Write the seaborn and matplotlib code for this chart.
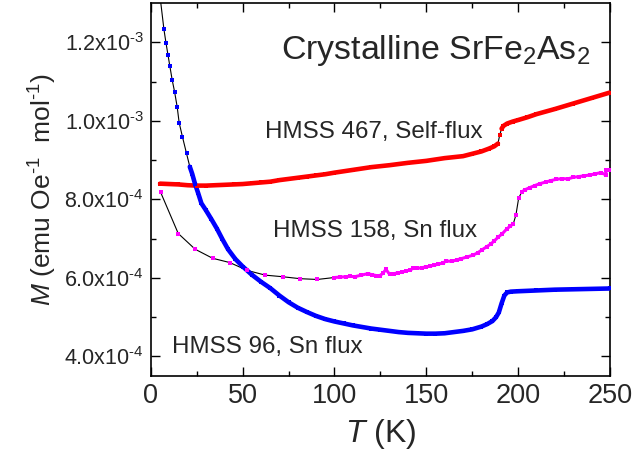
import numpy as np
import pandas as pd
import matplotlib
matplotlib.use("Agg")
import matplotlib.pyplot as plt
import seaborn as sns

# ---- HMSS 96, Sn flux (blue) ----
t_96 = [4.0, 5.3, 7.1, 8.2, 9.3, 10.3, 11.6, 12.9, 14.3, 15.4, 17.2, 19.4, 21.2,
        22.5, 24.0, 25.8, 27.5, 30, 33, 36, 39, 42, 46, 50, 55, 60, 65, 70, 75,
        80, 85, 90, 95, 100, 105, 110, 115, 120, 125, 130, 135, 140, 145, 150,
        155, 160, 165, 170, 175, 180, 183, 186, 188, 189.5, 191, 192.5, 194,
        196, 200, 205, 210, 220, 230, 240, 250]
m_96 = [13.6, 13.04, 12.33, 11.99, 11.68, 11.40, 11.04, 10.74, 10.36, 9.95, 9.59,
        9.17, 8.83, 8.65, 8.40, 8.15, 7.90, 7.72, 7.49, 7.25, 6.98, 6.73, 6.48,
        6.29, 6.08, 5.90, 5.74, 5.55, 5.38, 5.24, 5.13, 5.03, 4.95, 4.89, 4.84,
        4.79, 4.75, 4.71, 4.68, 4.65, 4.62, 4.60, 4.59, 4.58, 4.58, 4.59, 4.62,
        4.65, 4.69, 4.76, 4.82, 4.90, 5.00, 5.12, 5.35, 5.55, 5.63, 5.65, 5.66,
        5.67, 5.68, 5.70, 5.71, 5.72, 5.73]

# ---- HMSS 467, Self-flux (red) ----
t_467 = [5, 10, 15, 20, 25, 30, 35, 40, 45, 50, 55, 60, 65, 70, 75, 80, 85, 90,
         95, 100, 110, 120, 130, 140, 150, 160, 170, 175, 180, 184, 187, 189,
         190, 191, 192, 194, 197, 200, 205, 210, 220, 230, 240, 250]
m_467 = [8.40, 8.39, 8.38, 8.36, 8.35, 8.35, 8.36, 8.37, 8.38, 8.39, 8.41, 8.43,
         8.45, 8.49, 8.52, 8.55, 8.58, 8.61, 8.64, 8.68, 8.75, 8.82, 8.87, 8.93,
         8.98, 9.05, 9.10, 9.16, 9.22, 9.29, 9.35, 9.42, 9.64, 9.80, 9.87, 9.93,
         9.98, 10.02, 10.09, 10.17, 10.30, 10.44, 10.58, 10.72]

# ---- HMSS 158, Sn flux (magenta) ----
t_158 = [5.3, 14.9, 24.1, 33.6, 43, 52.5, 62.3, 71.7, 81.2, 90.6, 100, 103, 106,
         108.4, 111, 114.6, 118.3, 120.5, 122.8, 124.7, 126.5, 128, 130, 132.5,
         134.7, 137, 139.2, 141, 142.8, 145, 147.4, 150, 152, 154, 156.5, 159,
         161, 164, 166.5, 169, 172, 175.5, 178, 180.5, 182.8, 185, 187, 189.2,
         191.5, 193.7, 195.5, 197.4, 198.8, 200.3, 201.9, 203.5, 206.4, 209,
         211.9, 215, 218, 220.9, 224, 227, 230, 233, 236, 239, 242, 245, 247.6,
         248.1, 250]
m_158 = [8.18, 7.13, 6.73, 6.50, 6.39, 6.19, 6.07, 6.03, 5.98, 5.96, 6.01, 6.02,
         6.03, 6.04, 6.03, 6.07, 6.11, 6.08, 6.06, 6.06, 6.12, 6.22, 6.09, 6.11,
         6.13, 6.15, 6.18, 6.20, 6.24, 6.24, 6.26, 6.28, 6.30, 6.32, 6.35, 6.38,
         6.43, 6.42, 6.46, 6.49, 6.53, 6.58, 6.64, 6.72, 6.79, 6.86, 6.94, 7.04,
         7.13, 7.24, 7.31, 7.38, 7.60, 8.03, 8.18, 8.24, 8.30, 8.35, 8.40, 8.44,
         8.48, 8.51, 8.53, 8.52, 8.56, 8.58, 8.60, 8.62, 8.65, 8.68, 8.63, 8.74,
         8.76]

x_ticks = [0, 50, 100, 150, 200, 250]
y_ticks = [4e-4, 6e-4, 8e-4, 1.0e-3, 1.2e-3]
y_tick_labels = ["4.0x10$^{\\text{-4}}$", "6.0x10$^{\\text{-4}}$",
                 "8.0x10$^{\\text{-4}}$", "1.0x10$^{\\text{-3}}$",
                 "1.2x10$^{\\text{-3}}$"]

sns.set_theme(style="ticks")
plt.rcParams["font.family"] = ["Liberation Sans", "DejaVu Sans"]
plt.rcParams["mathtext.fontset"] = "custom"
plt.rcParams["mathtext.rm"] = "Liberation Sans"
plt.rcParams["mathtext.it"] = "Liberation Sans:italic"
plt.rcParams["mathtext.default"] = "regular"

df96 = pd.DataFrame({"T": t_96, "M": np.array(m_96) * 1e-4})
df467 = pd.DataFrame({"T": t_467, "M": np.array(m_467) * 1e-4})
df158 = pd.DataFrame({"T": t_158, "M": np.array(m_158) * 1e-4})

fig = plt.figure(figsize=(6.34, 4.62), dpi=100)
ax = fig.add_axes([0.238, 0.186, 0.724, 0.8075])


def draw(df, color, band_parts, band_lw, ms):
    # thin black connecting line
    sns.lineplot(data=df, x="T", y="M", color="black", lw=0.8, sort=False,
                 estimator=None, ax=ax, zorder=2)
    # dense measurement runs drawn as a coloured band
    for lo, hi in band_parts:
        sub = df[(df["T"] >= lo) & (df["T"] <= hi)]
        sns.lineplot(data=sub, x="T", y="M", color=color, lw=band_lw,
                     sort=False, estimator=None, ax=ax, zorder=3)
    sns.scatterplot(data=df, x="T", y="M", color=color, marker="s", s=ms,
                    linewidth=0, ax=ax, zorder=4)


draw(df467, "#ff0000", [(0, 189), (191, 260)], 3.3, 7)
draw(df158, "#ff00ff", [(99, 197.5), (201, 260)], 2.2, 7)
draw(df96, "#0000ff", [(21, 260)], 3.3, 7)

ax.set_xlim(0, 250)
ax.set_ylim(3.5e-4, 1.3e-3)
ax.set_xticks(x_ticks)
ax.set_xticklabels([str(v) for v in x_ticks])
ax.set_yticks(y_ticks)
ax.set_yticklabels(y_tick_labels)
ax.set_xticks([25, 75, 125, 175, 225], minor=True)
ax.set_yticks([5e-4, 7e-4, 9e-4, 1.1e-3], minor=True)
ax.tick_params(which="both", direction="in", top=True, right=True,
               color="black", width=1.0)
ax.tick_params(which="major", length=6.5)
ax.tick_params(which="minor", length=3.3)
ax.tick_params(axis="x", which="major", labelsize=19.5, pad=5)
ax.tick_params(axis="y", which="major", labelsize=15.5, pad=5)
for sp in ax.spines.values():
    sp.set_linewidth(1.2)
    sp.set_color("black")

ax.set_xlabel("$\\mathit{T}$ (K)", fontsize=23, labelpad=6)
ax.set_ylabel("$\\mathit{M}$ (emu Oe$^{\\text{-1}}$  mol$^{\\text{-1}}$)",
              fontsize=19, labelpad=4)

ax.text(70.8, 11.8e-4, "Crystalline SrFe$_2$As$_2$", fontsize=24.4,
        ha="left", va="center")
ax.text(62.1, 9.71e-4, "HMSS 467, Self-flux", fontsize=17.4, ha="left", va="center")
ax.text(66.4, 7.19e-4, "HMSS 158, Sn flux", fontsize=17.4, ha="left", va="center")
ax.text(11.4, 4.23e-4, "HMSS 96, Sn flux", fontsize=17.4, ha="left", va="center")

fig.savefig("out.png", dpi=100)
